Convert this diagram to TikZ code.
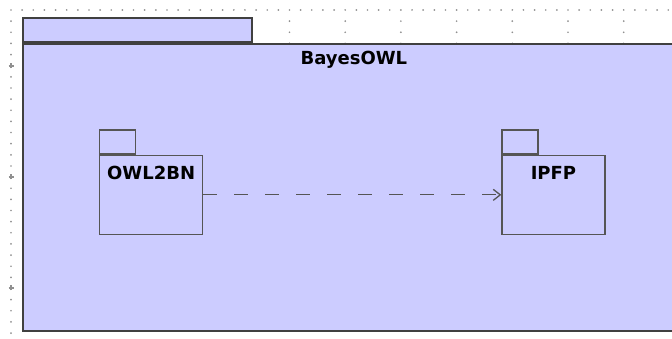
\documentclass[tikz,border=0pt]{standalone}
\usepackage{fontspec}
\setsansfont{DejaVu Sans}
\usetikzlibrary{positioning,arrows.meta}
\definecolor{pkgfill}{HTML}{CCCCFF}
\definecolor{pkgline}{HTML}{555555}
\definecolor{dotgray}{HTML}{909090}
\tikzset{
 diagram/.style={x=1pt,y=1pt},
 package/.style={rectangle,draw=pkgline,fill=pkgfill,line width=1.3pt,
   inner sep=0pt,minimum width=103pt,minimum height=79pt},
 pkgtab/.style={rectangle,draw=pkgline,fill=pkgfill,line width=1.3pt,
   inner sep=0pt,minimum width=36pt,minimum height=24pt,anchor=south west},
 outer package/.style={package,draw=black!75,line width=1.8pt,
   minimum width=662pt,minimum height=287pt},
 outer tab/.style={pkgtab,draw=black!75,line width=1.8pt,minimum width=229pt},
 pkgname/.style={inner sep=0pt,font=\fontsize{18}{20}\sffamily\bfseries},
 depends/.style={draw=pkgline,line width=1.3pt,dash pattern=on 14pt off 17pt,
   -{Straight Barb[length=7pt,width=11pt]}},
 griddot/.style={fill=dotgray}
 }
\begin{document}
\begin{tikzpicture}[diagram]
      \useasboundingbox[fill=white] (0,0) rectangle (672,339);
      % drawing grid
      \foreach \i in {0,...,59} \fill[griddot] (11+11.14*\i,329) circle (0.95pt);
      \foreach \j in {1,...,29} \fill[griddot] (11,329-11.14*\j) circle (0.95pt);
      \foreach \k in {1,...,11}
        \foreach \j in {1,2,3} \fill[griddot] (11+55.7*\k,329-11.14*\j) circle (0.95pt);
      \foreach \y in {273,162,51}
        \draw[dotgray,line width=1.2pt] (8.5,\y) -- (13.5,\y) (11,\y-2.5) -- (11,\y+2.5);
      % packages
      \node[outer package,anchor=south west] (bayes) at (22,7) {};
      \node[outer tab] (bayestab) at (bayes.north west) {};
      \node[pkgname,below=8pt of bayes.north] (bayesname) {BayesOWL};
      \node[package,anchor=south west] (owl) at (99,104) {};
      \node[pkgtab] (owltab) at (owl.north west) {};
      \node[pkgname,below=11pt of owl.north] (owlname) {OWL2BN};
      \node[package,right=298pt of owl] (ipfp) {};
      \node[pkgtab] (ipfptab) at (ipfp.north west) {};
      \node[pkgname,below=11pt of ipfp.north] (ipfpname) {IPFP};
      \draw[depends] (owl.east) -- (ipfp.west);
\end{tikzpicture}
\end{document}
